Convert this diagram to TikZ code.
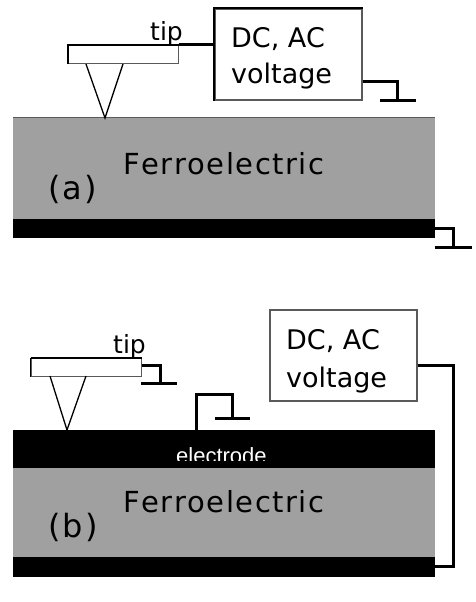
\documentclass[tikz,border=0pt]{standalone}
\usepackage{fontspec}
\setmainfont{DejaVu Sans}
\newfontfamily\elecfont{Liberation Sans}
\definecolor{ferro}{RGB}{160,160,160}
\definecolor{edgegray}{RGB}{90,90,90}
\newcommand{\ferrotext}{F\kern1.5pt e\kern1.5pt r\kern1.5pt r\kern1.5pt o\kern1.5pt e\kern1.5pt l\kern1.5pt e\kern1.5pt c\kern1.5pt t\kern1.5pt r\kern1.5pt i\kern1.5pt c}
\tikzset{
  wire/.style={draw=black,line width=2pt,line cap=butt,line join=miter},
  gndwire/.style={draw=black,line width=3pt,line cap=butt,line join=miter},
  thinline/.style={draw=black,line width=1.3pt,line join=miter},
  volt/.style={draw=edgegray,fill=white,line width=1.1pt,inner sep=0pt,minimum width=147pt,minimum height=91pt},
  cant/.style={draw=edgegray,fill=white,line width=1pt,inner sep=0pt,minimum width=110pt,minimum height=18pt},
  plate/.style={inner sep=0pt,minimum width=422pt,draw=none},
  lab/.style={inner sep=0pt,anchor=base west,text=black},
  big/.style={lab,font=\fontsize{29}{32}\selectfont},
  part/.style={lab,font=\fontsize{32}{36}\selectfont},
  mid/.style={lab,font=\fontsize{27}{30}\selectfont},
  tiplab/.style={lab,font=\fontsize{25}{28}\selectfont},
}
\begin{document}
\begin{tikzpicture}[x=1pt,y=-1pt]
\useasboundingbox (0,0) rectangle (475,602);
% ---------- panel (a)
\node[plate,fill=ferro,minimum height=101pt] (fa) at (224,168.5) {};
\draw[edgegray,line width=0.8pt] (fa.north west) -- (fa.north east);
\node[plate,fill=black,minimum height=19pt] (ba) at (224,228.5) {};
\node[volt] (va) at (288.5,54.5) {};
\draw[wire] ([xshift=-1pt]va.north west) -- (va.north east);
\draw[wire] (va.north west) -- (va.south west);
\node[cant] (ca) at (123,55) {};
\draw[wire] (ca.south west) -- (ca.north west) -- (ca.north east);
\coordinate (ta) at (105,118);
\draw[thinline] (86,64) -- (ta) -- (123,64);
\draw[gndwire] (ca.north east |- 0,44.5) -- (va.west |- 0,44.5);
\coordinate (ga) at (397,100);
\draw[gndwire] (va.east |- 0,81) -- (397,81) -- (ga);
\draw[gndwire] (380,100) -- (416,100);
\coordinate (gb) at (453,247);
\draw[gndwire] (ba.east) -- (453,228.5) -- (gb);
\draw[gndwire] (435,247) -- (472,247);
\node[tiplab] (tipa) at (150,41) {tip};
\node[mid] (dca) at (231,48) {DC, AC};
\node[mid] (vola) at (231,84) {voltage};
\node[big] (fea) at (123,174) {\ferrotext};
\node[part] (la) at (48,199) {(\kern2pt a\kern2pt )};
% ---------- panel (b)
\node[plate,fill=black,minimum height=38pt] (eb) at (224,449) {};
\node[plate,fill=ferro,minimum height=89pt] (fb) at (224,512.5) {};
\node[plate,fill=black,minimum height=20pt] (bb) at (224,567) {};
\node[volt] (vb) at (343.5,355.5) {};
\node[cant] (cb) at (86,367) {};
\draw[wire] (cb.north west) -- (cb.north east);
\draw[wire,line width=1.5pt] (cb.south west) -- (cb.north west);
\coordinate (tb) at (67,430);
\draw[thinline] (50,376) -- (tb) -- (86,376);
\draw[gndwire] (cb.east |- 0,365) -- (160,365) -- (160,383);
\draw[gndwire] (141,383) -- (177,383);
\draw[gndwire] (196,430) -- (196,394) -- (232,394) -- (232,418);
\draw[gndwire] (215,418) -- (250,418);
\draw[gndwire] (vb.east |- 0,365) -- (453,365) -- (453,566) -- (bb.east |- 0,566);
\node[tiplab] (tipb) at (113,353) {tip};
\node[mid] (dcb) at (286,349) {DC, AC};
\node[mid] (volb) at (286,387) {voltage};
\begin{scope}
\clip (150,440) rectangle (300,460);
\node[lab,text=white,font=\elecfont\fontsize{22}{24}\selectfont] (el) at (176,463) {electrode};
\end{scope}
\node[big] (feb) at (123,512) {\ferrotext};
\node[part] (lb) at (48,537) {(\kern2pt b\kern2pt )};
\end{tikzpicture}
\end{document}
